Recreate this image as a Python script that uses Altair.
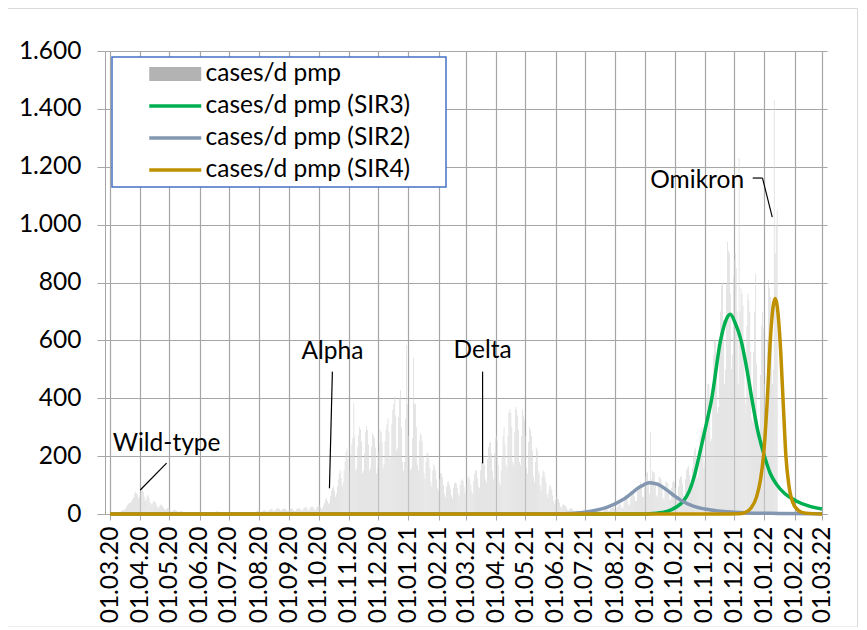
import altair as alt
import pandas as pd

# ---------------- data ----------------
start_date = "2020-03-01"
# daily cases per million (pmp), one line per week (Sun..Sat), from 2020-03-01
cases_pmp = [
    0, 0, 1, 2, 2, 3, 3,
    3, 4, 5, 6, 8, 11, 13,
    14, 15, 19, 26, 31, 36, 38,
    40, 44, 51, 56, 70, 76, 72,
    66, 55, 61, 73, 81, 89, 76,
    60, 46, 51, 62, 66, 56, 41,
    36, 31, 39, 46, 42, 38, 30,
    23, 20, 28, 31, 33, 28, 22,
    16, 14, 18, 21, 19, 16, 12,
    9, 10, 14, 15, 14, 12, 9,
    8, 8, 10, 10, 9, 8, 7,
    6, 5, 7, 8, 8, 7, 5,
    5, 4, 6, 7, 6, 6, 4,
    4, 3, 5, 6, 6, 5, 4,
    3, 3, 4, 5, 5, 5, 4,
    3, 3, 5, 8, 9, 10, 8,
    7, 6, 7, 8, 6, 6, 4,
    3, 3, 5, 6, 6, 5, 4,
    3, 3, 5, 5, 5, 5, 4,
    3, 3, 5, 5, 6, 5, 5,
    4, 4, 6, 7, 7, 8, 6,
    5, 5, 8, 9, 10, 11, 9,
    7, 7, 10, 12, 13, 13, 11,
    8, 9, 13, 15, 17, 18, 14,
    10, 11, 16, 18, 20, 20, 16,
    12, 12, 17, 18, 19, 18, 15,
    10, 10, 15, 17, 18, 18, 14,
    10, 10, 16, 19, 20, 20, 16,
    12, 12, 18, 22, 24, 24, 19,
    13, 14, 20, 24, 26, 26, 21,
    14, 15, 22, 26, 28, 30, 24,
    18, 20, 30, 38, 50, 55, 45,
    35, 40, 62, 80, 90, 96, 80,
    60, 70, 95, 120, 140, 152, 125,
    95, 110, 150, 182, 215, 226, 190,
    140, 150, 205, 240, 262, 383, 270,
    150, 160, 232, 272, 300, 292, 250,
    142, 150, 210, 282, 302, 290, 240,
    150, 160, 232, 280, 272, 262, 230,
    140, 160, 212, 245, 290, 282, 250,
    160, 172, 252, 290, 312, 330, 282,
    190, 200, 310, 360, 380, 405, 340,
    220, 230, 335, 400, 428, 300, 180,
    150, 180, 330, 584, 380, 270, 200,
    150, 160, 262, 540, 380, 382, 300,
    170, 150, 252, 280, 272, 250, 200,
    140, 120, 182, 212, 210, 190, 160,
    110, 95, 150, 172, 165, 150, 120,
    90, 80, 120, 142, 140, 125, 100,
    70, 60, 95, 110, 112, 100, 85,
    65, 55, 90, 105, 110, 105, 90,
    70, 60, 100, 115, 120, 115, 95,
    75, 65, 105, 125, 130, 120, 100,
    80, 70, 115, 140, 150, 150, 125,
    95, 90, 150, 180, 200, 202, 170,
    120, 110, 190, 230, 245, 250, 210,
    150, 120, 210, 260, 270, 250, 170,
    110, 100, 150, 200, 270, 300, 240,
    170, 160, 270, 350, 362, 350, 300,
    180, 170, 282, 370, 360, 340, 290,
    180, 170, 270, 360, 340, 322, 270,
    160, 140, 250, 300, 290, 270, 220,
    130, 110, 180, 230, 220, 150, 140,
    100, 80, 130, 150, 145, 130, 110,
    70, 55, 80, 100, 95, 85, 65,
    45, 35, 50, 60, 55, 50, 40,
    25, 20, 30, 35, 30, 28, 22,
    15, 12, 18, 20, 18, 16, 12,
    9, 8, 11, 12, 11, 10, 8,
    6, 6, 8, 9, 9, 8, 7,
    5, 5, 8, 9, 9, 9, 8,
    6, 6, 10, 11, 12, 12, 10,
    8, 8, 13, 15, 16, 17, 14,
    10, 11, 18, 20, 22, 24, 19,
    14, 15, 25, 30, 33, 35, 28,
    20, 22, 38, 45, 50, 55, 42,
    30, 32, 55, 65, 70, 75, 60,
    45, 45, 80, 95, 100, 110, 90,
    60, 60, 110, 130, 140, 145, 115,
    70, 284, 120, 150, 145, 140, 110,
    65, 60, 110, 130, 125, 120, 95,
    55, 50, 95, 115, 110, 105, 85,
    50, 48, 90, 110, 115, 110, 90,
    55, 50, 95, 120, 130, 130, 105,
    65, 60, 120, 150, 160, 165, 135,
    85, 90, 160, 200, 220, 230, 190,
    120, 130, 220, 270, 290, 300, 250,
    160, 180, 300, 400, 450, 450, 380,
    250, 260, 450, 550, 600, 600, 500,
    350, 370, 600, 700, 790, 800, 670,
    450, 500, 800, 941, 910, 900, 760,
    500, 550, 820, 880, 900, 850, 700,
    450, 1229, 700, 780, 760, 720, 600,
    400, 380, 650, 760, 740, 700, 560,
    330, 320, 560, 700, 830, 520, 320,
    250, 280, 480, 650, 700, 640, 450,
    300, 350, 600, 809, 780, 750, 600,
    450, 500, 1431, 900, 1000, 1050,
]

sir3_dates = ["2020-03-01", "2021-08-22", "2021-09-12", "2021-09-24", "2021-10-03",
              "2021-10-10", "2021-10-16", "2021-10-21", "2021-10-26", "2021-11-01",
              "2021-11-08", "2021-11-17", "2021-11-22", "2021-11-27", "2021-12-02",
              "2021-12-08", "2021-12-14", "2021-12-19", "2021-12-25", "2022-01-01",
              "2022-01-07", "2022-01-13", "2022-01-22", "2022-02-02", "2022-02-15",
              "2022-03-01"]
sir3_values = [0, 0, 3, 10, 25, 45, 80, 130, 200, 290, 400, 600, 665, 690, 660,
               600, 500, 400, 290, 200, 140, 104, 70, 46, 28, 17]

sir2_dates = ["2020-03-01", "2021-05-01", "2021-06-01", "2021-06-20", "2021-07-07",
              "2021-07-24", "2021-08-10", "2021-08-27", "2021-09-05", "2021-09-14",
              "2021-09-22", "2021-10-01", "2021-10-10", "2021-10-20", "2021-11-01",
              "2021-11-15", "2021-12-01", "2021-12-20", "2022-01-15", "2022-03-01"]
sir2_values = [0, 0, 1, 3, 10, 24, 52, 95, 108, 102, 85, 62, 42, 27, 17, 10, 6, 3, 2, 1]

sir4_dates = ["2020-03-01", "2021-11-15", "2021-12-05", "2021-12-12", "2021-12-18",
              "2021-12-24", "2021-12-28", "2021-12-31", "2022-01-04", "2022-01-07",
              "2022-01-10", "2022-01-12", "2022-01-14", "2022-01-17", "2022-01-20",
              "2022-01-23", "2022-01-26", "2022-01-30", "2022-02-05", "2022-02-12",
              "2022-03-01"]
sir4_values = [0, 0, 1, 5, 20, 60, 120, 200, 400, 600, 720, 745, 720, 600, 400,
               200, 100, 40, 12, 3, 0]

series_names = ["cases/d pmp", "cases/d pmp (SIR3)", "cases/d pmp (SIR2)", "cases/d pmp (SIR4)"]
series_colors = ["#b3b3b3", "#00b050", "#8497b0", "#bf9000"]

ann_labels = ["Wild-type", "Alpha", "Delta", "Omikron"]
ann_dates = ["2020-04-28", "2020-10-15", "2021-03-18", "2021-10-24"]
ann_values = [218, 536, 538, 1126]

leader_from_dates = ["2020-04-01", "2020-10-15", "2021-03-18", "2021-12-20", "2021-12-30"]
leader_from_values = [83, 492, 492, 1161, 1161]
leader_to_dates = ["2020-04-28", "2020-10-12", "2021-03-18", "2021-12-30", "2022-01-09"]
leader_to_values = [176, 89, 175, 1161, 1026]

tick_months = [(2020 + (2 + i) // 12, (2 + i) % 12 + 1) for i in range(25)]
y_ticks = list(range(0, 1601, 200))

# ---------------- tables ----------------
cases_df = pd.DataFrame({
    "date": pd.date_range(start_date, periods=len(cases_pmp), freq="D").strftime("%Y-%m-%d"),
    "value": cases_pmp,
})
sir_df = pd.concat([
    pd.DataFrame({"date": sir3_dates, "value": sir3_values, "series": series_names[1]}),
    pd.DataFrame({"date": sir2_dates, "value": sir2_values, "series": series_names[2]}),
    pd.DataFrame({"date": sir4_dates, "value": sir4_values, "series": series_names[3]}),
])
ann_df = pd.DataFrame({"date": ann_dates, "value": ann_values, "label": ann_labels})
lead_df = pd.DataFrame({"date": leader_from_dates, "value": leader_from_values,
                        "date2": leader_to_dates, "value2": leader_to_values})

FONT = "Lato"
FS = 24.5
GRID = "#a6a6a6"

x_scale = alt.Scale(type="utc", domain=[alt.DateTime(year=2020, month=3, date=1, utc=True),
                                        alt.DateTime(year=2022, month=3, date=1, utc=True)])
y_scale = alt.Scale(domain=[0, 1600], nice=False)

x_axis = alt.Axis(
    values=[alt.DateTime(year=y, month=m, date=1, utc=True) for y, m in tick_months],
    format="%d.%m.%y", labelAngle=270, labelAlign="right", labelBaseline="middle",
    labelFont=FONT, labelFontSize=FS, labelColor="black", labelPadding=6,
    labelOverlap=False, tickSize=6, tickColor=GRID, domainColor=GRID,
    grid=True, gridColor=GRID, gridWidth=1.2, title=None,
)
y_axis = alt.Axis(
    values=y_ticks, labelExpr="replace(format(datum.value, ','), ',', '.')",
    labelFont=FONT, labelFontSize=FS, labelColor="black", labelPadding=16,
    labelOverlap=False, tickSize=8, tickColor=GRID, domainColor=GRID,
    grid=True, gridColor=GRID, gridWidth=1.2, title=None,
)

X = alt.X("date:T", scale=x_scale, axis=x_axis, title=None)
Y = alt.Y("value:Q", scale=y_scale, axis=y_axis, title=None)

frame = alt.Chart(alt.Data(values=[{}])).mark_rect(
    filled=False, stroke="#d9d9d9", strokeWidth=1
).encode(x=alt.value(-97.5), x2=alt.value(752.5), y=alt.value(-42.5), y2=alt.value(576))

bars = alt.Chart(cases_df).mark_bar(width=0.6, color="#d4d4d4").encode(x=X, y=Y)

legend = alt.Legend(
    orient="none", legendX=7, legendY=6,
    title="\u00a0", titleOrient="right", titlePadding=31, titleFontSize=6,
    symbolType="stroke", symbolSize=2704,
    symbolStrokeWidth=alt.ExprRef(expr="datum.value == 'cases/d pmp' ? 14 : 3.5"),
    symbolOffset=46, labelOffset=18, clipHeight=24,
    labelFont=FONT, labelFontSize=FS, labelColor="black", labelLimit=500,
    rowPadding=7, padding=5, fillColor="white", strokeColor="#4472c4",
)

lines = alt.Chart(sir_df).mark_line(strokeWidth=3.5, interpolate="monotone").encode(
    x=X, y=Y,
    color=alt.Color("series:N", scale=alt.Scale(domain=series_names, range=series_colors),
                    legend=legend),
)

leaders = alt.Chart(lead_df).mark_rule(color="black", strokeWidth=1.2).encode(
    x=X, x2="date2:T", y=Y, y2="value2:Q",
)

texts = alt.Chart(ann_df).mark_text(
    font=FONT, fontSize=FS, align="center", baseline="alphabetic", color="black"
).encode(x=X, y=Y, text="label:N")

chart = alt.layer(frame, bars, lines, leaders, texts).properties(
    width=722, height=463,
    autosize=alt.AutoSizeParams(type="none"),
    padding={"left": 97, "top": 43, "right": 32, "bottom": 113},
).configure_view(stroke=None).configure_legend(strokeWidth=1.5).configure_axis(labelOverlap=False)

chart.save("out.html", embed_options={"renderer": "svg", "actions": False})
